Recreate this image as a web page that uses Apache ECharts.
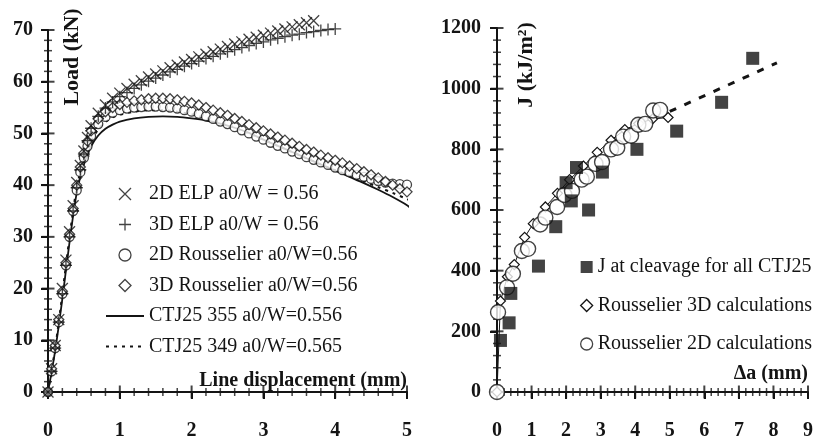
<!DOCTYPE html>
<html>
<head>
<meta charset="utf-8">
<script src="https://cdn.jsdelivr.net/npm/echarts@6/dist/echarts.min.js"></script>
<style>
html,body{margin:0;padding:0;background:#fff;}
#chart{width:822px;height:441px;}
</style>
</head>
<body>
<div id="chart"></div>
<script>
// ---------- Left panel: Load vs line displacement ----------
const leftXTicks = [0, 1, 2, 3, 4, 5];
const leftYTicks = [0, 10, 20, 30, 40, 50, 60, 70];

const elp2dX = [0,0.05,0.1,0.15,0.2,0.25,0.3,0.35,0.4,0.45,0.5,0.55,0.6,0.7,0.8,0.9,1.0,1.1,1.2,1.3,1.4,1.5,1.6,1.7,1.8,1.9,2.0,2.1,2.2,2.3,2.4,2.5,2.6,2.7,2.8,2.9,3.0,3.1,3.2,3.3,3.4,3.5,3.6,3.7];
const elp2dY = [0,4.5,9,14,20,25.5,31,36,40.5,43.8,46.6,49.2,51.5,53.9,55.5,56.8,57.8,58.7,59.5,60.2,60.9,61.5,62.1,62.7,63.2,63.8,64.3,64.8,65.3,65.8,66.3,66.8,67.3,67.7,68.2,68.6,69.0,69.4,69.8,70.2,70.6,71.0,71.4,71.8];

const elp3dX = [0,0.05,0.1,0.15,0.2,0.25,0.3,0.35,0.4,0.45,0.5,0.55,0.6,0.7,0.8,0.9,1.0,1.1,1.2,1.3,1.4,1.5,1.6,1.7,1.8,1.9,2.0,2.1,2.2,2.3,2.4,2.5,2.6,2.7,2.8,2.9,3.0,3.1,3.2,3.3,3.4,3.5,3.6,3.7,3.8,3.9,4.0];
const elp3dY = [0,4,8.5,13.5,19,24.5,30,35,39.5,43,46,48.6,51,53.3,54.9,56.1,57.1,57.9,58.7,59.4,60.1,60.7,61.3,61.9,62.4,63.0,63.5,64.0,64.5,64.9,65.4,65.8,66.2,66.6,67.0,67.4,67.7,68.1,68.4,68.7,69.0,69.2,69.5,69.7,69.9,70.1,70.2];

const rou2dX = [0,0.05,0.1,0.15,0.2,0.25,0.3,0.35,0.4,0.45,0.5,0.55,0.6,0.7,0.8,0.9,1.0,1.1,1.2,1.3,1.4,1.5,1.6,1.7,1.8,1.9,2.0,2.1,2.2,2.3,2.4,2.5,2.6,2.7,2.8,2.9,3.0,3.1,3.2,3.3,3.4,3.5,3.6,3.7,3.8,3.9,4.0,4.1,4.2,4.3,4.4,4.5,4.6,4.7,4.8,4.9,5.0];
const rou2dY = [0,4,8.5,13.5,19,24.5,30,35,39,42.5,45.3,47.5,49.5,51.8,53.2,54,54.5,54.8,55,55.1,55.2,55.2,55.1,55,54.8,54.5,54.2,53.8,53.3,52.8,52.3,51.8,51.2,50.6,50,49.4,48.8,48.2,47.6,47.1,46.5,46,45.4,44.9,44.4,43.9,43.4,42.9,42.5,42,41.6,41.2,40.8,40.5,40.3,40.2,40.1];

const rou3dX = [0,0.05,0.1,0.15,0.2,0.25,0.3,0.35,0.4,0.45,0.5,0.55,0.6,0.7,0.8,0.9,1.0,1.1,1.2,1.3,1.4,1.5,1.6,1.7,1.8,1.9,2.0,2.1,2.2,2.3,2.4,2.5,2.6,2.7,2.8,2.9,3.0,3.1,3.2,3.3,3.4,3.5,3.6,3.7,3.8,3.9,4.0,4.1,4.2,4.3,4.4,4.5,4.6,4.7,4.8,4.9,5.0];
const rou3dY = [0,4.5,9,14,19.5,25,30.5,35.5,40,43.5,46.2,48.5,50.5,52.8,54.2,55,55.6,56,56.3,56.5,56.7,56.8,56.8,56.7,56.5,56.2,55.9,55.5,55,54.5,54,53.5,52.9,52.3,51.7,51.1,50.5,49.9,49.3,48.7,48.1,47.5,46.9,46.4,45.8,45.3,44.8,44.3,43.7,43.2,42.6,42,41.4,40.7,40,39.3,38.7];

const ctjX = [0,0.1,0.2,0.3,0.4,0.5,0.6,0.7,0.8,0.9,1.0,1.2,1.4,1.6,1.8,2.0,2.2,2.4,2.6,2.8,3.0,3.2,3.4,3.6,3.8,4.0,4.2,4.4,4.6,4.8,5.0,5.1];
const ctj355Y = [0,8,18,29,38.5,44,47.5,49.6,50.9,51.7,52.3,52.9,53.2,53.3,53.2,52.9,52.5,51.9,51.1,50.1,48.8,47.6,46.4,45.2,44.0,42.8,41.6,40.4,39.1,37.7,36.1,35.0];
const ctj349Y = [0,8.5,19,30,39.5,45,48.5,50.8,52.2,53.1,53.6,54.2,54.5,54.5,54.2,53.7,53.0,52.1,51.1,50.0,48.8,47.6,46.4,45.2,44.0,42.9,41.8,40.7,39.6,38.5,37.3,36.6];

// ---------- Right panel: J vs crack extension ----------
const rightXTicks = [0,1,2,3,4,5,6,7,8,9];
const rightYTicks = [0,200,400,600,800,1000,1200];

const cleavX = [0.1,0.35,0.4,1.2,1.7,2.0,2.15,2.3,2.65,3.05,4.05,5.2,6.5,7.4];
const cleavY = [170,228,325,415,545,690,630,740,600,725,800,860,955,1100];

const calc3dX = [0,0.1,0.3,0.5,0.8,1.05,1.4,1.75,2.1,2.5,2.9,3.3,3.7,4.1,4.5,4.95];
const calc3dY = [0,300,380,420,510,555,610,655,700,745,790,830,865,885,900,905];

const calc2dX = [0,0.03,0.29,0.46,0.72,0.9,1.25,1.4,1.74,1.95,2.17,2.45,2.6,2.85,3.04,3.3,3.48,3.65,3.88,4.09,4.29,4.52,4.72];
const calc2dY = [0,263,345,390,465,472,552,575,610,650,663,700,710,752,758,800,805,842,845,881,884,928,930];

const trendX = [5.0, 8.1];
const trendY = [925, 1085];

const leftNames = ['2D ELP a0/W = 0.56','3D ELP a0/W = 0.56','2D Rousselier a0/W=0.56','3D Rousselier a0/W=0.56','CTJ25 355 a0/W=0.556','CTJ25 349 a0/W=0.565'];
const rightNames = ['J at cleavage for all CTJ25','Rousselier 3D calculations','Rousselier 2D calculations'];

// ---------- build ----------
const zip = (xs, ys) => xs.map((x, i) => [x, ys[i]]);
const FF = '"Liberation Serif","Times New Roman",serif';
const INK = '#141414';
const CROSS = 'path://M0,0L10,10M10,0L0,10';
const PLUS = 'path://M5,0L5,10M0,5L10,5';
const DIAM = 'path://M5,0L10,5L5,10L0,5Z';
const SQUARE = 'path://M0,0L10,0L10,10L0,10Z';

const tickLabel = {fontFamily: FF, fontWeight: 'bold', fontSize: 20, color: INK, formatter: v => String(v)};
const first = a => a[0];
const last = a => a[a.length - 1];

// subdivide each major-tick gap into n parts (minor tick positions)
function minorTicks(ticks, n) {
  const out = [];
  for (let i = 0; i < ticks.length - 1; i++) {
    const step = (ticks[i + 1] - ticks[i]) / n;
    for (let k = 1; k < n; k++) out.push(+(ticks[i] + k * step).toFixed(6));
  }
  return out;
}
// crossing tick marks: thin rectangles centred on the axis line, placed through the axis scales
function tickSeries(ai, xt, yt, nx, ny) {
  const x0 = first(xt), y0 = first(yt);
  const mk = (name, data, size) => ({name: name, type: 'scatter', xAxisIndex: ai, yAxisIndex: ai,
    data: data, symbol: 'rect', symbolSize: size, clip: false, itemStyle: {color: INK}});
  return [
    mk('xMajor' + ai, xt.map(v => [v, y0]), [2, 13]),
    mk('xMinor' + ai, minorTicks(xt, nx).map(v => [v, y0]), [1.5, 8]),
    mk('yMajor' + ai, yt.map(v => [x0, v]), [13, 2]),
    mk('yMinor' + ai, minorTicks(yt, ny).map(v => [x0, v]), [8, 1.5])
  ];
}

const L = {left: 48, top: 30, width: 359, height: 363};
const R = {left: 497, top: 28, width: 311, height: 365};

function xAxisOf(gi, xt, xi, name, namePad) {
  return {
    type: 'value', gridIndex: gi, min: first(xt), max: last(xt), interval: xi,
    axisLine: {lineStyle: {color: INK, width: 2}},
    axisTick: {show: true, length: 7, lineStyle: {color: INK, width: 2}},
    splitLine: {show: false},
    axisLabel: Object.assign({margin: 29}, tickLabel),
    name: name, nameLocation: 'end', nameGap: 0,
    nameTextStyle: {fontFamily: FF, fontWeight: 'bold', fontSize: 20, color: INK,
                    align: 'right', verticalAlign: 'bottom', padding: [0, 0, namePad, 0]}
  };
}
function yAxisOf(gi, yt, yi, margin) {
  return {
    type: 'value', gridIndex: gi, min: first(yt), max: last(yt), interval: yi,
    axisLine: {show: true, lineStyle: {color: INK, width: 2}},
    axisTick: {show: true, length: 7, lineStyle: {color: INK, width: 2}},
    splitLine: {show: false},
    axisLabel: Object.assign({margin: margin}, tickLabel)
  };
}

const legendText = {fontFamily: FF, fontSize: 20, lineHeight: 20, color: INK};

const option = {
  backgroundColor: '#fff',
  animation: false,
  grid: [L, R],
  xAxis: [xAxisOf(0, leftXTicks, 1, 'Line displacement (mm)', 1), xAxisOf(1, rightXTicks, 1, 'Δa (mm)', 8)],
  yAxis: [yAxisOf(0, leftYTicks, 10, 15), yAxisOf(1, rightYTicks, 200, 16)],
  legend: [
    {
      orient: 'vertical', left: 105, top: 184, padding: 0, itemWidth: 38, itemHeight: 12, itemGap: 10.5,
      symbolKeepAspect: true, selectedMode: false, textStyle: legendText,
      data: [
        {name: leftNames[0], icon: CROSS, itemStyle: {color: 'transparent', borderColor: INK, borderWidth: 1.3}},
        {name: leftNames[1], icon: PLUS, itemStyle: {color: 'transparent', borderColor: INK, borderWidth: 1.3}},
        {name: leftNames[2], icon: 'circle', itemStyle: {color: '#fff', borderColor: INK, borderWidth: 1.3}},
        {name: leftNames[3], icon: DIAM, itemStyle: {color: '#fff', borderColor: INK, borderWidth: 1.3}},
        {name: leftNames[4]},
        {name: leftNames[5]}
      ]
    },
    {
      orient: 'vertical', left: 580, top: 257, padding: 0, itemWidth: 12, itemHeight: 12, itemGap: 18.5,
      symbolKeepAspect: true, selectedMode: false, textStyle: legendText,
      data: [
        {name: rightNames[0], icon: SQUARE, itemStyle: {color: INK, borderWidth: 0}},
        {name: rightNames[1], icon: DIAM, itemStyle: {color: '#fff', borderColor: INK, borderWidth: 1.3}},
        {name: rightNames[2], icon: 'circle', itemStyle: {color: '#fff', borderColor: INK, borderWidth: 1.3}}
      ]
    }
  ],
  graphic: [
    {type: 'text', x: 72, y: 57, rotation: Math.PI / 2, z: 10,
     style: {text: 'Load (kN)', font: 'bold 22px "Liberation Serif"', fill: INK,
             textAlign: 'center', textVerticalAlign: 'middle', align: 'center', verticalAlign: 'middle'}},
    {type: 'text', x: 526, y: 65, rotation: Math.PI / 2, z: 10,
     style: {text: 'J (kJ/m²)', font: 'bold 22px "Liberation Serif"', fill: INK,
             textAlign: 'center', textVerticalAlign: 'middle', align: 'center', verticalAlign: 'middle'}}
  ],
  series: [].concat(
    tickSeries(0, leftXTicks, leftYTicks, 5, 5),
    tickSeries(1, rightXTicks, rightYTicks, 5, 5),
    [
    {name: leftNames[4], type: 'line', xAxisIndex: 0, yAxisIndex: 0, data: zip(ctjX, ctj355Y),
     symbol: 'none', smooth: 0.3, clip: false, itemStyle: {color: 'transparent'},
     lineStyle: {color: INK, width: 1.8, type: 'solid'}, z: 2},
    {name: leftNames[5], type: 'line', xAxisIndex: 0, yAxisIndex: 0, data: zip(ctjX, ctj349Y),
     symbol: 'none', smooth: 0.3, clip: false, itemStyle: {color: 'transparent'},
     lineStyle: {color: INK, width: 2, type: [3, 5]}, z: 2},
    {name: leftNames[2], type: 'scatter', xAxisIndex: 0, yAxisIndex: 0, data: zip(rou2dX, rou2dY),
     symbol: 'circle', symbolSize: 9, clip: false,
     itemStyle: {color: '#fff', borderColor: INK, borderWidth: 1.3}, z: 3},
    {name: leftNames[3], type: 'scatter', xAxisIndex: 0, yAxisIndex: 0, data: zip(rou3dX, rou3dY),
     symbol: DIAM, symbolSize: 10, clip: false,
     itemStyle: {color: '#fff', borderColor: INK, borderWidth: 1.3}, z: 4},
    {name: leftNames[0], type: 'scatter', xAxisIndex: 0, yAxisIndex: 0, data: zip(elp2dX, elp2dY),
     symbol: CROSS, symbolSize: 11, clip: false,
     itemStyle: {color: 'transparent', borderColor: INK, borderWidth: 1.3}, z: 5},
    {name: leftNames[1], type: 'scatter', xAxisIndex: 0, yAxisIndex: 0, data: zip(elp3dX, elp3dY),
     symbol: PLUS, symbolSize: 12, clip: false,
     itemStyle: {color: 'transparent', borderColor: INK, borderWidth: 1.3}, z: 5},

    {name: 'trend', type: 'line', xAxisIndex: 1, yAxisIndex: 1, data: zip(trendX, trendY),
     symbol: 'none', clip: false, itemStyle: {color: 'transparent'},
     lineStyle: {color: INK, width: 3, type: [7, 9]}, z: 2},
    {name: rightNames[1], type: 'line', xAxisIndex: 1, yAxisIndex: 1, data: zip(calc3dX, calc3dY),
     symbol: DIAM, symbolSize: 10, showSymbol: true, clip: false,
     itemStyle: {color: '#fff', borderColor: INK, borderWidth: 1.2},
     lineStyle: {color: INK, width: 1}, z: 3},
    {name: rightNames[2], type: 'scatter', xAxisIndex: 1, yAxisIndex: 1, data: zip(calc2dX, calc2dY),
     symbol: 'circle', symbolSize: 15, clip: false,
     itemStyle: {color: '#fff', borderColor: INK, borderWidth: 1.4}, z: 4},
    {name: rightNames[0], type: 'scatter', xAxisIndex: 1, yAxisIndex: 1, data: zip(cleavX, cleavY),
     symbol: 'rect', symbolSize: 13, clip: false,
     itemStyle: {color: INK}, z: 5}
    ])
};

const chart = echarts.init(document.getElementById('chart'));
chart.setOption(option);
</script>
</body>
</html>
